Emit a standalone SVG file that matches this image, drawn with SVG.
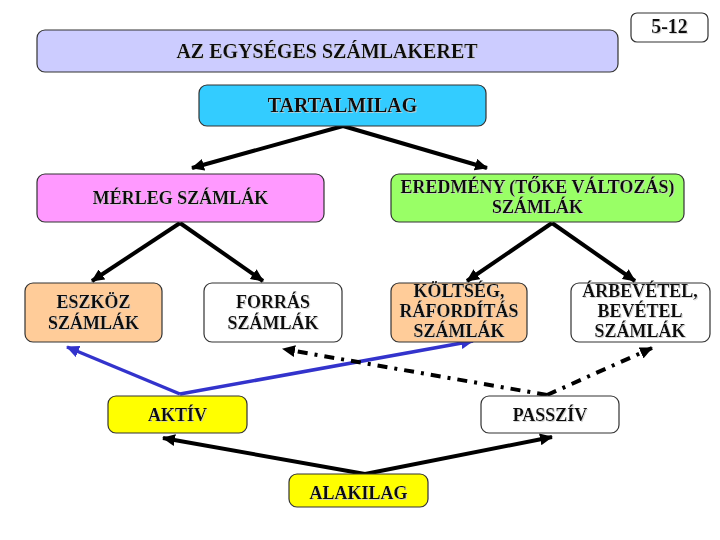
<svg xmlns="http://www.w3.org/2000/svg" width="720" height="540" viewBox="0 0 720 540">
<defs>
<style>
.box{stroke:#333;stroke-width:1.2}
.t{font-family:"Liberation Serif","Times New Roman",serif;font-weight:bold;font-size:18px;fill:#111;text-anchor:middle;filter:url(#sh)}
.big{font-size:20px}
.blk{fill:none;stroke:#000;stroke-width:4;marker-end:url(#ah)}
.blue{fill:none;stroke:#3333CC;stroke-width:3.5;marker-end:url(#ahb)}
.dash{fill:none;stroke:#000;stroke-width:4;stroke-dasharray:10 7 3 7;marker-end:url(#ah)}
</style>
<filter id="sh" x="-5%" y="-20%" width="110%" height="140%">
<feOffset in="SourceAlpha" dx="1" dy="1" result="o"/>
<feColorMatrix in="o" type="matrix" values="0 0 0 0 0.6  0 0 0 0 0.6  0 0 0 0 0.6  0 0 0 0.8 0" result="g"/>
<feMerge><feMergeNode in="g"/><feMergeNode in="SourceGraphic"/></feMerge>
</filter>
<marker id="ah" markerUnits="userSpaceOnUse" markerWidth="14" markerHeight="12" refX="12" refY="6" orient="auto">
<path d="M0,0 L13,6 L0,12 Z" fill="#000"/>
</marker>
<marker id="ahb" markerUnits="userSpaceOnUse" markerWidth="14" markerHeight="12" refX="12" refY="6" orient="auto">
<path d="M0,0 L13,6 L0,12 Z" fill="#3333CC"/>
</marker>
</defs>
<rect width="720" height="540" fill="#fff"/>

<g id="connectors">
<path class="blk" d="M343,126 L192,168"/>
<path class="blk" d="M343,126 L487,168"/>
<path class="blk" d="M180,223 L92,281"/>
<path class="blk" d="M180,223 L263,281"/>
<path class="blk" d="M552,223 L467,281"/>
<path class="blk" d="M552,223 L635,281"/>
<path class="blue" d="M180,394 L67,347"/>
<path class="blue" d="M180,394 L473,341"/>
<path class="dash" d="M547,395 L283,349"/>
<path class="dash" d="M547,395 L652,348"/>
<path class="blk" d="M365,474 L163,438"/>
<path class="blk" d="M365,474 L552,437"/>
</g>

<g id="n-page">
<rect class="box" x="631" y="13" width="77" height="29" rx="6" fill="#fff"/>
<text class="t big" x="669.5" y="33">5-12</text>
</g>
<g id="n-title">
<rect class="box" x="37" y="30" width="581" height="42" rx="8" fill="#CCCCFF"/>
<text class="t big" x="327" y="58">AZ EGYSÉGES SZÁMLAKERET</text>
</g>
<g id="n-tartalmilag">
<rect class="box" x="199" y="85" width="287" height="41" rx="8" fill="#33CCFF"/>
<text class="t big" x="342.5" y="112">TARTALMILAG</text>
</g>
<g id="n-merleg">
<rect class="box" x="37" y="174" width="287" height="48" rx="8" fill="#FF99FF"/>
<text class="t" x="180.5" y="204">MÉRLEG SZÁMLÁK</text>
</g>
<g id="n-eredmeny">
<rect class="box" x="391" y="174" width="293" height="48" rx="8" fill="#99FF66"/>
<text class="t" x="537.5" y="193">EREDMÉNY (TŐKE VÁLTOZÁS)</text>
<text class="t" x="537.5" y="213">SZÁMLÁK</text>
</g>
<g id="n-eszkoz">
<rect class="box" x="25" y="283" width="137" height="59" rx="8" fill="#FFCC99"/>
<text class="t" x="93.5" y="308">ESZKÖZ</text>
<text class="t" x="93.5" y="329">SZÁMLÁK</text>
</g>
<g id="n-forras">
<rect class="box" x="204" y="283" width="138" height="59" rx="8" fill="#fff"/>
<text class="t" x="273" y="308">FORRÁS</text>
<text class="t" x="273" y="329">SZÁMLÁK</text>
</g>
<g id="n-koltseg">
<rect class="box" x="391" y="283" width="136" height="59" rx="8" fill="#FFCC99"/>
<text class="t" x="459" y="297">KÖLTSÉG,</text>
<text class="t" x="459" y="317">RÁFORDÍTÁS</text>
<text class="t" x="459" y="337">SZÁMLÁK</text>
</g>
<g id="n-arbevetel">
<rect class="box" x="571" y="283" width="139" height="59" rx="8" fill="#fff"/>
<text class="t" x="640" y="297">ÁRBEVÉTEL,</text>
<text class="t" x="640" y="317">BEVÉTEL</text>
<text class="t" x="640" y="337">SZÁMLÁK</text>
</g>
<g id="n-aktiv">
<rect class="box" x="108" y="396" width="139" height="37" rx="8" fill="#FFFF00"/>
<text class="t" x="177.5" y="421">AKTÍV</text>
</g>
<g id="n-passziv">
<rect class="box" x="481" y="396" width="138" height="37" rx="8" fill="#fff"/>
<text class="t" x="550" y="421">PASSZÍV</text>
</g>
<g id="n-alakilag">
<rect class="box" x="289" y="474" width="139" height="33" rx="8" fill="#FFFF00"/>
<text class="t" x="358.5" y="499">ALAKILAG</text>
</g>
</svg>
